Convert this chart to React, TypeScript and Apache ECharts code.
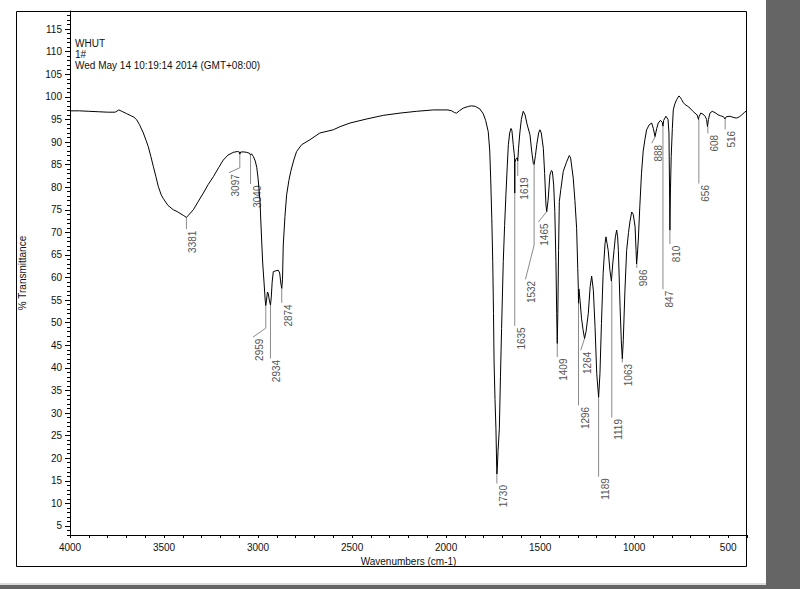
import React, { useEffect, useRef } from "react";
import * as echarts from "echarts";

// IR spectrum: [wavenumber (cm-1), %T]
const spectrum: [number, number][] = [
  [4000, 96.9], [3950, 96.9], [3900, 96.8], [3850, 96.7], [3800, 96.6], [3760, 96.6], [3740, 97.1], [3725, 96.8],
  [3700, 96.3], [3680, 95.9], [3660, 95.5], [3645, 94.9], [3630, 93.8], [3610, 92.0], [3595, 90.3], [3584, 89.0],
  [3570, 86.8], [3557, 84.6], [3543, 82.3], [3530, 80.1], [3515, 78.3], [3504, 77.5], [3480, 76.0], [3451, 75.0],
  [3430, 74.6], [3415, 74.2], [3395, 73.7], [3381, 73.3], [3370, 73.8], [3344, 75.0], [3320, 76.7], [3291, 78.7],
  [3265, 80.6], [3238, 82.3], [3210, 84.3], [3185, 86.0], [3160, 87.1], [3132, 87.7], [3110, 87.9], [3100, 87.8],
  [3097, 87.3], [3092, 87.8], [3075, 87.8], [3060, 87.7], [3045, 87.5], [3040, 87.1], [3035, 87.4], [3025, 86.8],
  [3015, 85.8], [3007, 84.4], [3000, 82.0], [2990, 77.2], [2981, 68.3], [2975, 63.0], [2968, 58.8], [2962, 55.0],
  [2959, 53.8], [2955, 55.0], [2950, 56.8], [2946, 56.5], [2940, 55.0], [2934, 53.9], [2930, 55.5], [2925, 59.0],
  [2919, 61.3], [2905, 61.5], [2892, 61.6], [2885, 61.0], [2878, 58.5], [2874, 57.6], [2870, 59.5], [2866, 67.2],
  [2857, 73.5], [2848, 78.3], [2836, 81.5], [2826, 83.5], [2810, 86.0], [2795, 87.9], [2768, 89.4], [2724, 90.5],
  [2671, 92.0], [2600, 92.7], [2564, 93.4], [2511, 94.2], [2422, 95.1], [2334, 95.9], [2245, 96.4], [2156, 96.8],
  [2068, 97.1], [1990, 97.1], [1970, 96.9], [1955, 96.5], [1944, 96.4], [1930, 96.9], [1909, 97.5], [1880, 97.9],
  [1864, 98.0], [1845, 97.9], [1820, 97.3], [1802, 96.2], [1790, 94.8], [1776, 92.3], [1768, 88.0], [1763, 82.0],
  [1757, 73.0], [1752, 63.5], [1748, 52.0], [1745, 41.3], [1740, 33.0], [1735, 26.5], [1731, 18.0], [1730, 16.5],
  [1728, 17.5], [1724, 21.5], [1717, 26.5], [1711, 38.0], [1705, 48.7], [1700, 57.0], [1696, 63.5], [1689, 71.5],
  [1682, 78.3], [1675, 84.5], [1669, 89.4], [1662, 92.0], [1655, 93.0], [1650, 92.5], [1643, 89.4], [1638, 87.5],
  [1636, 86.5], [1635, 78.7], [1634, 85.5], [1628, 86.3], [1622, 86.5], [1619, 85.8], [1615, 88.5], [1608, 92.0],
  [1600, 95.0], [1590, 96.8], [1580, 96.0], [1570, 94.0], [1554, 91.6], [1545, 88.0], [1536, 85.2], [1532, 85.0],
  [1525, 87.0], [1518, 89.4], [1508, 92.0], [1501, 92.7], [1494, 92.0], [1483, 88.6], [1476, 83.0], [1469, 76.1],
  [1465, 74.6], [1458, 77.0], [1448, 82.7], [1440, 83.7], [1435, 83.5], [1428, 80.5], [1422, 74.6], [1416, 63.5],
  [1412, 52.0], [1409, 45.4], [1406, 52.0], [1402, 66.0], [1398, 76.8], [1390, 79.5], [1377, 83.5], [1360, 85.5],
  [1345, 87.0], [1338, 86.5], [1324, 82.0], [1315, 77.0], [1306, 70.9], [1300, 62.0], [1297, 57.6], [1296, 54.3],
  [1294, 57.5], [1288, 55.0], [1280, 51.0], [1272, 48.5], [1264, 46.5], [1256, 48.0], [1244, 52.0], [1234, 58.0],
  [1226, 60.3], [1217, 57.2], [1208, 49.0], [1199, 38.7], [1189, 33.5], [1182, 38.7], [1174, 49.8], [1165, 60.9],
  [1155, 67.5], [1150, 69.0], [1144, 67.5], [1138, 66.0], [1129, 61.6], [1121, 59.2], [1114, 63.0], [1107, 66.0],
  [1100, 69.0], [1093, 70.5], [1088, 69.0], [1084, 66.0], [1075, 53.5], [1068, 45.5], [1063, 42.0], [1058, 46.0],
  [1049, 57.2], [1040, 66.0], [1030, 70.0], [1022, 72.5], [1013, 74.5], [1005, 74.0], [995, 71.2], [990, 66.0],
  [987, 63.0], [983, 65.0], [978, 68.3], [970, 75.7], [961, 83.1], [952, 88.0], [943, 90.5], [934, 92.7],
  [920, 93.8], [907, 94.2], [898, 93.0], [889, 91.2], [880, 93.0], [872, 94.2], [860, 94.8], [850, 94.3],
  [847, 93.5], [843, 94.8], [831, 95.7], [820, 95.0], [815, 92.0], [812, 80.0], [810, 70.5], [807, 79.4],
  [803, 86.8], [797, 93.0], [792, 97.1], [784, 98.4], [774, 99.4], [762, 100.2], [755, 99.9], [748, 99.4],
  [740, 98.8], [730, 98.3], [715, 97.9], [703, 97.5], [690, 96.9], [677, 96.4], [665, 96.0], [658, 95.0],
  [655, 95.6], [646, 96.4], [635, 96.2], [623, 95.7], [615, 95.0], [610, 93.4], [605, 95.0], [597, 96.4],
  [585, 96.8], [570, 96.5], [553, 96.0], [540, 95.8], [525, 95.6], [517, 95.1], [510, 95.6], [490, 95.7],
  [470, 95.4], [455, 95.3], [440, 95.6], [428, 96.0], [415, 96.5], [400, 97.0],
];

// Peak annotations
const peakLabels = [
  "3381", "3097", "3040", "2959", "2934", "2874", "1730", "1635", "1619", "1532", "1465", "1409",
  "1296", "1264", "1189", "1119", "1063", "986", "888", "847", "810", "656", "608", "516",
];
const peakWavenumbers = [
  3381, 3097, 3040, 2959, 2934, 2874, 1730, 1635, 1619, 1532, 1465, 1409,
  1296, 1264, 1189, 1119, 1063, 986, 888, 847, 810, 656, 608, 516,
];
const peakTransmittance = [
  73.3, 87.3, 87.1, 53.8, 53.9, 57.6, 16.5, 78.7, 85.8, 85.0, 74.6, 45.4,
  54.3, 46.5, 33.5, 59.2, 42.0, 63.0, 91.2, 93.5, 70.5, 95.0, 93.4, 95.1,
];
// leader geometry in data units: [elbow %T, label wavenumber, label %T]
const peakLeaders: [number, number, number][] = [
  [70.7, 3381, 70.7], [84.3, 3155, 83.2], [80.7, 3040, 80.7], [48.8, 3027, 46.8],
  [42.1, 2934, 42.1], [54.4, 2874, 54.4], [14.4, 1730, 14.4], [49.3, 1635, 49.3],
  [82.5, 1619, 82.5], [67.2, 1578, 59.6], [74.6, 1509, 72.3], [42.4, 1409, 42.4],
  [31.7, 1296, 31.7], [46.5, 1284, 43.9], [15.9, 1189, 15.9], [29.0, 1119, 29.0],
  [41.2, 1063, 41.2], [62.1, 986, 62.1], [91.2, 907, 89.7], [57.4, 847, 57.4],
  [67.4, 810, 67.4], [80.8, 656, 80.8], [91.9, 608, 91.9], [92.8, 516, 92.8],
];

const xTickLabels = [4000, 3500, 3000, 2500, 2000, 1500, 1000, 500];
const yTickLabels = [5, 10, 15, 20, 25, 30, 35, 40, 45, 50, 55, 60, 65, 70, 75, 80, 85, 90, 95, 100, 105, 110, 115];
const headerLines = ["WHUT", "1#", "Wed May 14 10:19:14 2014 (GMT+08:00)"];

const FONT = '"Liberation Sans", Arial, sans-serif';

export default function App() {
  const ref = useRef<HTMLDivElement>(null);

  useEffect(() => {
    if (!ref.current) return;
    const chart = echarts.init(ref.current, null, { renderer: "svg" });
    const yMin = 3;
    const yMax = 119;
    const minorY: number[] = [];
    for (let v = Math.ceil(yMin); v <= yMax; v++) minorY.push(v);

    const peakData = peakWavenumbers.map((wn, i) => [
      wn,
      peakTransmittance[i],
      peakLeaders[i][0],
      peakLeaders[i][1],
      peakLeaders[i][2],
    ]);

    chart.setOption({
      animation: false,
      backgroundColor: "#ffffff",
      grid: { left: 70, right: 53, top: 11, bottom: 54 },
      xAxis: {
        type: "value",
        inverse: true,
        min: 400,
        max: 4000,
        interval: 100,
        name: "Wavenumbers (cm-1)",
        nameLocation: "middle",
        nameGap: 21,
        nameTextStyle: { fontSize: 10, fontFamily: FONT, color: "#111" },
        axisLine: { show: true, lineStyle: { color: "#000", width: 1 } },
        axisTick: { show: true, inside: false, length: 3, lineStyle: { color: "#000" } },
        axisLabel: {
          customValues: xTickLabels,
          formatter: (v: number) => String(v),
          fontSize: 10,
          fontFamily: FONT,
          color: "#111",
          margin: 7,
        },
        splitLine: { show: false },
      },
      yAxis: [
        {
          type: "value",
          min: yMin,
          max: yMax,
          position: "left",
          name: "% Transmittance",
          nameLocation: "middle",
          nameGap: 43,
          nameTextStyle: { fontSize: 10, fontFamily: FONT, color: "#111" },
          axisLine: { show: true, lineStyle: { color: "#000", width: 1 } },
          axisTick: { show: true, inside: false, length: 5, customValues: yTickLabels, lineStyle: { color: "#000" } },
          axisLabel: {
            customValues: yTickLabels,
            formatter: (v: number) => String(v),
            fontSize: 10,
            fontFamily: FONT,
            color: "#111",
            margin: 8,
          },
          splitLine: { show: false },
        },
        {
          type: "value",
          min: yMin,
          max: yMax,
          position: "left",
          axisLine: { show: false },
          axisTick: { show: true, inside: false, length: 3, customValues: minorY, lineStyle: { color: "#000" } },
          axisLabel: { show: false },
          splitLine: { show: false },
        },
      ],
      graphic: [
        { type: "rect", silent: true, shape: { x: 766, y: 0, width: 34, height: 589 }, style: { fill: "#656565" } },
        { type: "rect", silent: true, shape: { x: 0, y: 583, width: 766, height: 2 }, style: { fill: "#dcdcdc" } },
        { type: "rect", silent: true, shape: { x: 0, y: 585, width: 800, height: 4 }, style: { fill: "#656565" } },
        {
          type: "rect",
          silent: true,
          shape: { x: 16.5, y: 11.5, width: 730, height: 555 },
          style: { fill: "none", stroke: "#000", lineWidth: 1 },
        },
        ...headerLines.map((t, i) => ({
          type: "text",
          silent: true,
          x: 75,
          y: 38 + i * 11,
          style: { text: t, fontSize: 10, fontFamily: FONT, fill: "#111", align: "left", verticalAlign: "top" },
        })),
      ],
      series: [
        {
          type: "line",
          data: spectrum,
          xAxisIndex: 0,
          yAxisIndex: 0,
          showSymbol: false,
          symbol: "none",
          lineStyle: { color: "#000", width: 1 },
          silent: true,
        },
        {
          type: "custom",
          xAxisIndex: 0,
          yAxisIndex: 0,
          data: peakData,
          silent: true,
          clip: false,
          renderItem: (params: any, api: any) => {
            const wn = api.value(0);
            const tc = api.value(1);
            const te = api.value(2);
            const lw = api.value(3);
            const lt = api.value(4);
            const p0 = api.coord([wn, tc]);
            const p1 = api.coord([wn, te]);
            const p2 = api.coord([lw, lt]);
            return {
              type: "group",
              children: [
                {
                  type: "polyline",
                  shape: { points: [p0, p1, p2] },
                  style: { stroke: "#8a8a8a", lineWidth: 1, fill: "none" },
                },
                {
                  type: "text",
                  x: p2[0] + 1.5,
                  y: p2[1] + 1.5,
                  rotation: Math.PI / 2,
                  style: {
                    text: peakLabels[params.dataIndex],
                    fontSize: 10,
                    fontFamily: FONT,
                    fill: "#555",
                    align: "right",
                    verticalAlign: "top",
                  },
                },
              ],
            };
          },
        },
      ],
    });
    return () => chart.dispose();
  }, []);

  return (
    <div
      ref={ref}
      style={{ position: "fixed", left: 0, top: 0, width: 800, height: 589, background: "#fff" }}
    />
  );
}
